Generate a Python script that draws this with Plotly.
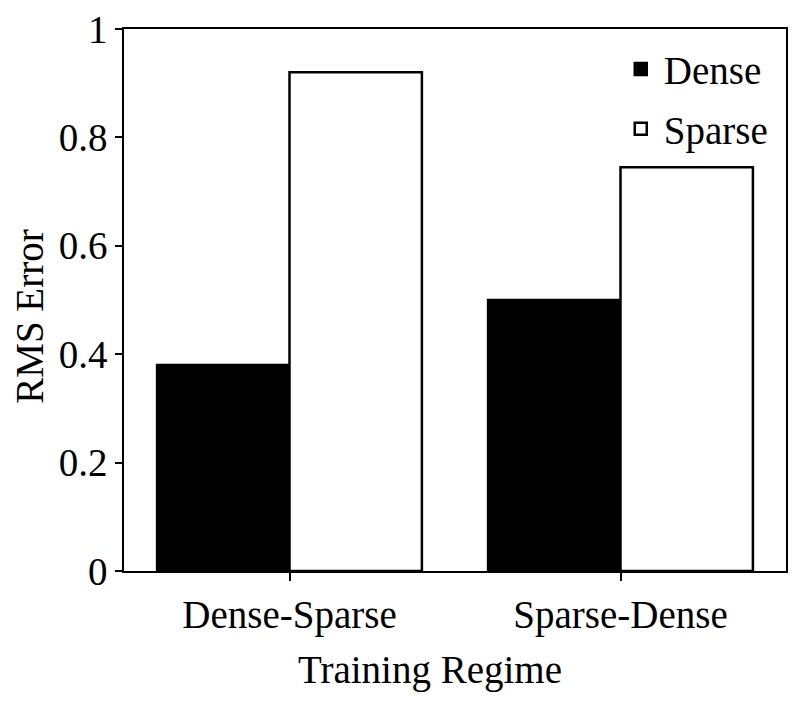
import plotly.graph_objects as go

categories = ["Dense-Sparse", "Sparse-Dense"]
dense_vals = [0.38, 0.50]
sparse_vals = [0.92, 0.745]
y_ticks = [0, 0.2, 0.4, 0.6, 0.8, 1]

FONT = "Liberation Serif, Times New Roman, serif"
FS = 39

fig = go.Figure()
fig.add_trace(go.Bar(name="Dense", x=categories, y=dense_vals, legendgroup="d",
                     marker=dict(color="black", line=dict(color="black", width=2.5))))
fig.add_trace(go.Bar(name="Sparse", x=categories, y=sparse_vals, legendgroup="s",
                     marker=dict(color="white", line=dict(color="black", width=2.5))))

# page body has an 8px default margin, so the figure is 8px smaller
fig.update_layout(
    width=792, height=697,
    margin=dict(l=116, r=14, t=21, b=134, autoexpand=False),
    paper_bgcolor="white", plot_bgcolor="white",
    barmode="group", bargap=0.2, bargroupgap=0,
    font=dict(family=FONT, size=FS, color="black"),
    showlegend=True,
    legend=dict(x=0.98, y=0.985, xanchor="right", yanchor="top",
                bgcolor="rgba(0,0,0,0)", borderwidth=0,
                font=dict(family=FONT, size=FS), itemwidth=36,
                traceorder="grouped", tracegroupgap=6),
    xaxis=dict(automargin=False,
               showline=True, linecolor="black", linewidth=1.5, mirror=True,
               ticks="outside", ticklen=8, tickcolor="black", tickwidth=1.5,
               showgrid=False, range=[-0.5, 1.5]),
    yaxis=dict(automargin=False, ticklabeloverflow="allow",
               showline=True, linecolor="black", linewidth=1.5, mirror=True,
               ticks="outside", ticklen=7, tickcolor="black", tickwidth=1.5,
               showgrid=False, zeroline=False, range=[0, 1],
               tickvals=y_ticks, ticktext=[str(t) for t in y_ticks],
               ticklabelstandoff=0),
    annotations=[
        dict(text="Training Regime", xref="paper", yref="paper",
             x=0.462, y=-0.183, xanchor="center", yanchor="middle",
             showarrow=False, font=dict(family=FONT, size=FS)),
        dict(text="RMS Error", xref="paper", yref="paper", textangle=-90,
             x=-0.142, y=0.469, xanchor="center", yanchor="middle",
             showarrow=False, font=dict(family=FONT, size=FS)),
    ],
)

fig.write_html("out.html")
